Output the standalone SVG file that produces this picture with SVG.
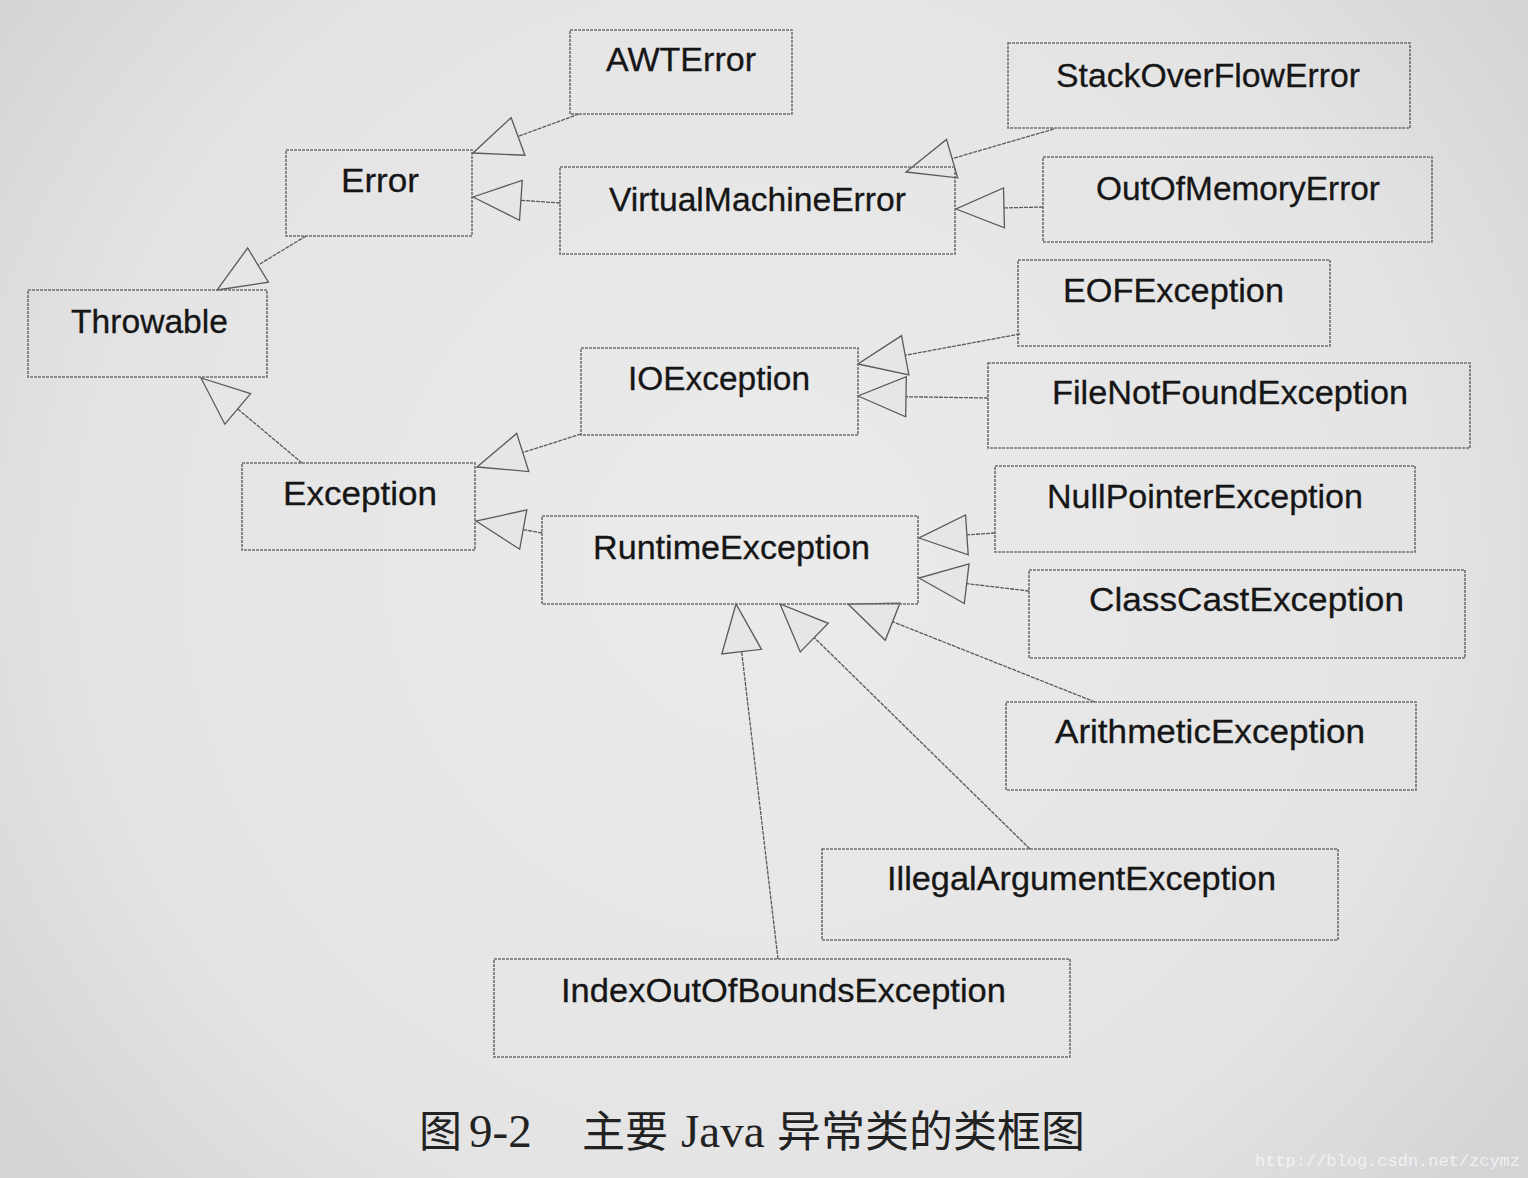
<svg xmlns="http://www.w3.org/2000/svg" width="1528" height="1178" viewBox="0 0 1528 1178">
<style>
  .box { fill: none; stroke: #707070; stroke-width: 1.6; stroke-dasharray: 3 1; }
  .lbl { font-family: "Liberation Sans", Arial, sans-serif; font-size: 33px; fill: #161616; stroke: #161616; stroke-width: 0.3; }
  .edge { stroke: #5a5a5a; stroke-width: 1.3; fill: none; stroke-dasharray: 4 1; marker-end: url(#tri); }
  .cap { font-family: "Liberation Serif", "Noto Sans CJK SC", serif; fill: #222; }
  .cjk { font-family: "Noto Sans CJK SC", sans-serif; font-size: 43px; }
  .lat { font-family: "Liberation Serif", serif; font-size: 47px; }
</style>
<defs>
  <radialGradient id="bg" cx="760" cy="560" r="950" gradientUnits="userSpaceOnUse">
    <stop offset="0" stop-color="#ebebeb"/>
    <stop offset="0.7" stop-color="#e4e4e5"/>
    <stop offset="1" stop-color="#d4d4d6"/>
  </radialGradient>
  <marker id="tri" markerUnits="userSpaceOnUse" markerWidth="52" markerHeight="46" viewBox="-2 -23 52 46" refX="48" refY="0" orient="auto">
    <path d="M48,0 L0,-20 L0,20 Z" fill="#e6e6e6" stroke="#5a5a5a" stroke-width="1.3" stroke-linejoin="miter"/>
  </marker>
</defs>
<rect x="0" y="0" width="1528" height="1178" fill="url(#bg)"/>

<g id="connectors">
  <line class="edge" x1="579" y1="114" x2="473" y2="153"/>
  <line class="edge" x1="560" y1="203" x2="473" y2="197"/>
  <line class="edge" x1="306" y1="236" x2="217" y2="290"/>
  <line class="edge" x1="302" y1="463" x2="201" y2="378"/>
  <line class="edge" x1="1054" y1="129" x2="906" y2="172"/>
  <line class="edge" x1="1043" y1="207" x2="956" y2="209"/>
  <line class="edge" x1="1020" y1="334" x2="858" y2="364"/>
  <line class="edge" x1="988" y1="398" x2="858" y2="396"/>
  <line class="edge" x1="581" y1="434" x2="477" y2="467"/>
  <line class="edge" x1="542" y1="533" x2="476" y2="521"/>
  <line class="edge" x1="995" y1="533" x2="919" y2="538"/>
  <line class="edge" x1="1029" y1="591" x2="919" y2="578"/>
  <line class="edge" x1="1095" y1="702" x2="848" y2="604"/>
  <line class="edge" x1="1030" y1="849" x2="780" y2="604"/>
  <line class="edge" x1="778" y1="959" x2="736" y2="604"/>
</g>

<g id="AWTError"><rect class="box" x="570" y="30" width="222" height="84"/><text class="lbl" x="606" y="71" textLength="150" lengthAdjust="spacingAndGlyphs">AWTError</text></g>
<g id="Error"><rect class="box" x="286" y="150" width="186" height="86"/><text class="lbl" x="341" y="192" textLength="78" lengthAdjust="spacingAndGlyphs">Error</text></g>
<g id="VirtualMachineError"><rect class="box" x="560" y="167" width="395" height="87"/><text class="lbl" x="609" y="211" textLength="297" lengthAdjust="spacingAndGlyphs">VirtualMachineError</text></g>
<g id="StackOverFlowError"><rect class="box" x="1008" y="43" width="402" height="85"/><text class="lbl" x="1056" y="87" textLength="304" lengthAdjust="spacingAndGlyphs">StackOverFlowError</text></g>
<g id="OutOfMemoryError"><rect class="box" x="1043" y="157" width="389" height="85"/><text class="lbl" x="1096" y="200" textLength="284" lengthAdjust="spacingAndGlyphs">OutOfMemoryError</text></g>
<g id="Throwable"><rect class="box" x="28" y="290" width="239" height="87"/><text class="lbl" x="71" y="333" textLength="157" lengthAdjust="spacingAndGlyphs">Throwable</text></g>
<g id="EOFException"><rect class="box" x="1018" y="260" width="312" height="86"/><text class="lbl" x="1063" y="302" textLength="221" lengthAdjust="spacingAndGlyphs">EOFException</text></g>
<g id="IOException"><rect class="box" x="581" y="348" width="277" height="87"/><text class="lbl" x="628" y="390" textLength="182" lengthAdjust="spacingAndGlyphs">IOException</text></g>
<g id="FileNotFoundException"><rect class="box" x="988" y="363" width="482" height="85"/><text class="lbl" x="1052" y="404" textLength="356" lengthAdjust="spacingAndGlyphs">FileNotFoundException</text></g>
<g id="Exception"><rect class="box" x="242" y="463" width="233" height="87"/><text class="lbl" x="283" y="505" textLength="154" lengthAdjust="spacingAndGlyphs">Exception</text></g>
<g id="NullPointerException"><rect class="box" x="995" y="466" width="420" height="86"/><text class="lbl" x="1047" y="508" textLength="316" lengthAdjust="spacingAndGlyphs">NullPointerException</text></g>
<g id="RuntimeException"><rect class="box" x="542" y="516" width="376" height="88"/><text class="lbl" x="593" y="559" textLength="277" lengthAdjust="spacingAndGlyphs">RuntimeException</text></g>
<g id="ClassCastException"><rect class="box" x="1029" y="570" width="436" height="88"/><text class="lbl" x="1089" y="611" textLength="315" lengthAdjust="spacingAndGlyphs">ClassCastException</text></g>
<g id="ArithmeticException"><rect class="box" x="1006" y="702" width="410" height="88"/><text class="lbl" x="1055" y="743" textLength="310" lengthAdjust="spacingAndGlyphs">ArithmeticException</text></g>
<g id="IllegalArgumentException"><rect class="box" x="822" y="849" width="516" height="91"/><text class="lbl" x="887" y="890" textLength="389" lengthAdjust="spacingAndGlyphs">IllegalArgumentException</text></g>
<g id="IndexOutOfBoundsException"><rect class="box" x="494" y="959" width="576" height="98"/><text class="lbl" x="561" y="1002" textLength="445" lengthAdjust="spacingAndGlyphs">IndexOutOfBoundsException</text></g>

<g id="caption">
  <text class="cap" y="1147"><tspan class="cjk" x="419">图</tspan><tspan class="lat" x="469">9-2</tspan><tspan class="cjk" x="582">主要</tspan><tspan class="lat" x="681">Java</tspan><tspan class="cjk" x="777" textLength="308" lengthAdjust="spacingAndGlyphs">异常类的类框图</tspan></text>
</g>
<text x="1255" y="1166" font-family="Liberation Mono, monospace" font-size="17" fill="#f6f6f6" fill-opacity="0.85" textLength="265" lengthAdjust="spacingAndGlyphs">http://blog.csdn.net/zcymz</text>
</svg>
